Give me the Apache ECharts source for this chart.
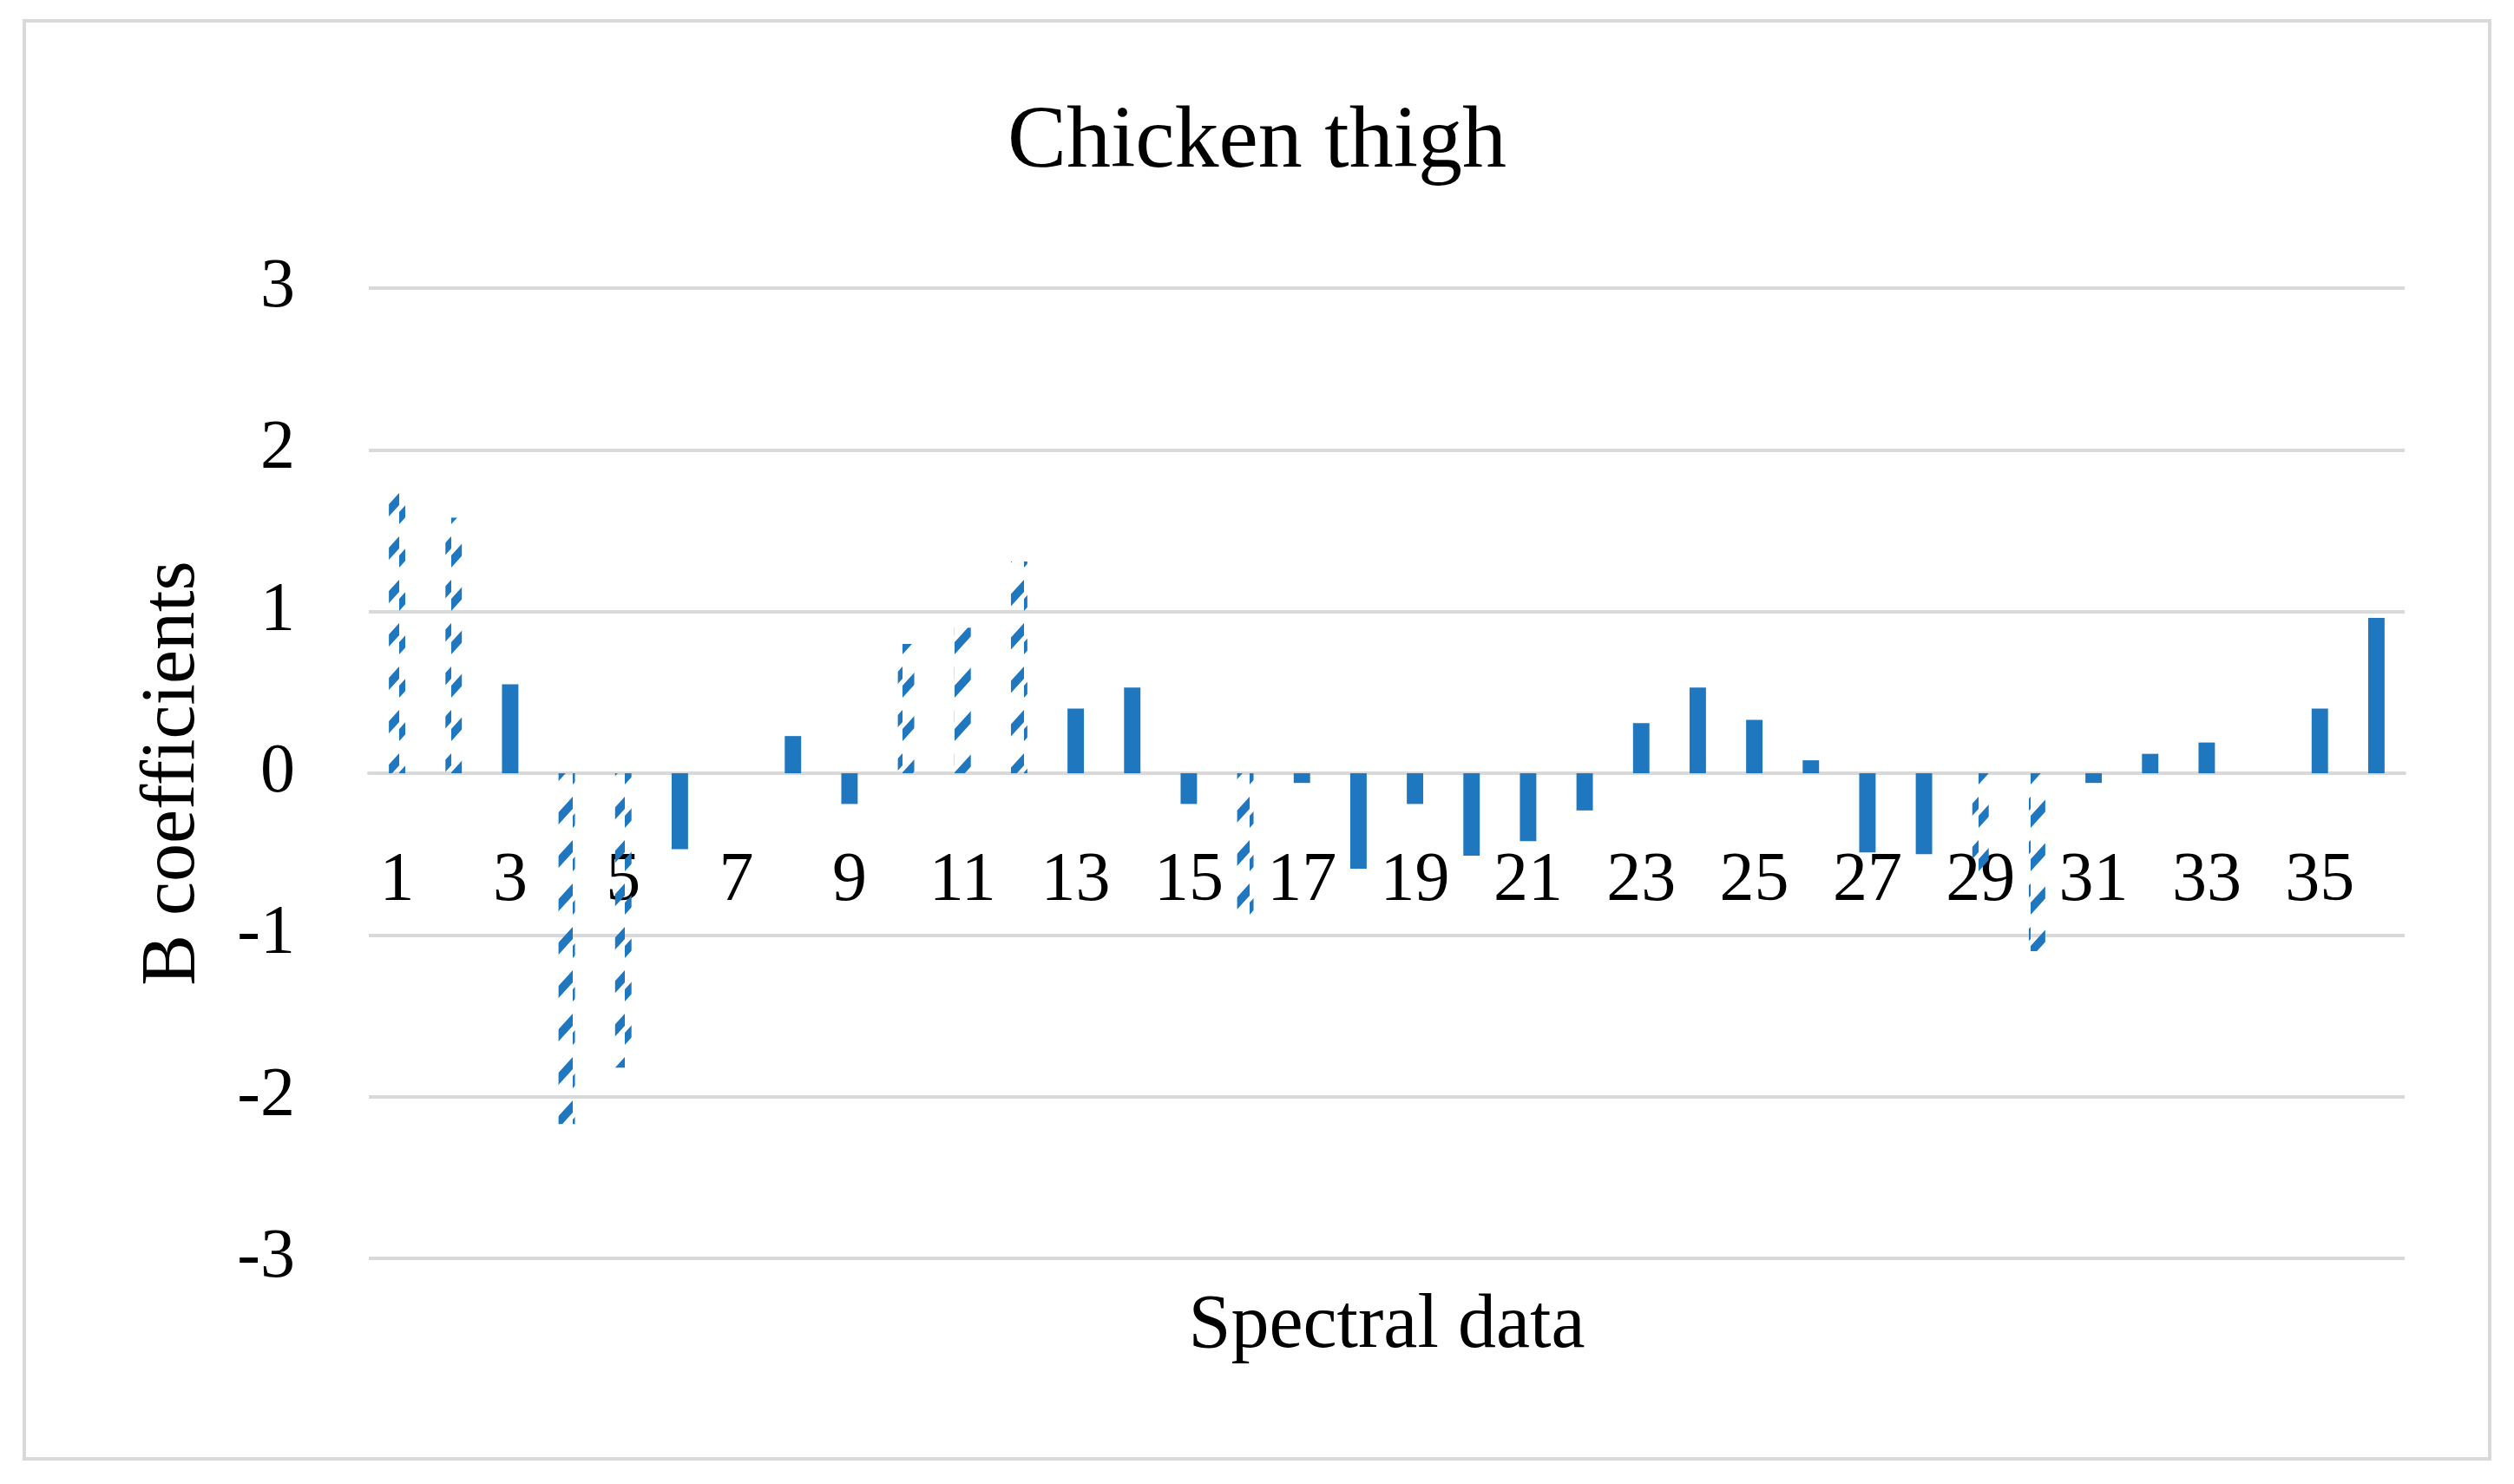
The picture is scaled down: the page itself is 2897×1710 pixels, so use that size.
<!DOCTYPE html>
<html><head><meta charset="utf-8">
<script src="https://cdn.jsdelivr.net/npm/echarts@6/dist/echarts.min.js"></script>
<style>html,body{margin:0;padding:0;background:#fff}#chart{width:2897px;height:1710px}</style>
</head><body><div id="chart"></div>
<script>
// ---- data ----
const categories = ['1','2','3','4','5','6','7','8','9','10','11','12','13','14','15','16','17','18',
  '19','20','21','22','23','24','25','26','27','28','29','30','31','32','33','34','35','36'];
const coefficients = [1.75, 1.58, 0.55, -2.17, -1.82, -0.47, 0, 0.23, -0.19, 0.80, 0.90, 1.31,
  0.40, 0.53, -0.19, -0.88, -0.06, -0.59, -0.19, -0.51, -0.42, -0.23, 0.31, 0.53,
  0.33, 0.08, -0.49, -0.50, -0.68, -1.10, -0.06, 0.12, 0.19, 0, 0.40, 0.96];
const hatched = [1,1,0,1,1,0,0,0,0,1,1,1,0,0,0,1,0,0,0,0,0,0,0,0,0,0,0,0,1,1,0,0,0,0,0,0];
const chartTitle = 'Chicken thigh';
const xName = 'Spectral data';
const yName = 'B coefficients';

// ---- styles ----
const BLUE = '#1f77bf';
const FONT = 'Liberation Serif';
const GRID_TOP = 332, GRID_BOTTOM = 260, H = 1710;
const yMin = -3, yMax = 3;
// distance from grid bottom up to the zero line (x axis sits on zero like Excel)
const zeroOffset = (H - GRID_TOP - GRID_BOTTOM) * (0 - yMin) / (yMax - yMin);

const tile = document.createElement('canvas');
tile.width = 20; tile.height = 50;
const g = tile.getContext('2d');
g.fillStyle = BLUE;
g.beginPath();
g.moveTo(0, 40); g.lineTo(20, 18); g.lineTo(20, 32); g.lineTo(0, 54);
g.closePath(); g.fill();
g.beginPath();
g.moveTo(0, -10); g.lineTo(20, -32); g.lineTo(20, -18); g.lineTo(0, 4);
g.closePath(); g.fill();
const hatchFill = { image: tile, repeat: 'repeat' };

const seriesData = coefficients.map((v, i) => ({
  value: v,
  itemStyle: { color: hatched[i] ? hatchFill : BLUE }
}));

const chart = echarts.init(document.getElementById('chart'), null, { renderer: 'canvas' });
chart.setOption({
  backgroundColor: '#ffffff',
  animation: false,
  title: {
    text: chartTitle, left: 'center', top: 109,
    textStyle: { fontFamily: FONT, fontSize: 102, fontWeight: 'normal', color: '#000' }
  },
  graphic: [{
    type: 'rect', z: -10,
    shape: { x: 28, y: 24, width: 2841, height: 1657 },
    style: { fill: 'none', stroke: '#d9d9d9', lineWidth: 4 }
  }],
  grid: { left: 425, right: 126, top: GRID_TOP, bottom: GRID_BOTTOM, containLabel: false, outerBoundsMode: 'none' },
  xAxis: {
    type: 'category', data: categories,
    offset: -zeroOffset,
    name: xName, nameLocation: 'middle', nameGap: 594,
    nameTextStyle: { fontFamily: FONT, fontSize: 88, color: '#000' },
    axisLine: { onZero: false, lineStyle: { color: '#d9d9d9', width: 4 } },
    axisTick: { show: false },
    axisLabel: { interval: 1, margin: 85, fontFamily: FONT, fontSize: 80, color: '#000' },
    splitLine: { show: false }
  },
  yAxis: {
    type: 'value', min: yMin, max: yMax, interval: 1,
    name: yName, nameLocation: 'middle', nameGap: 181, nameRotate: 90,
    nameTextStyle: { fontFamily: FONT, fontSize: 88, color: '#000' },
    axisLine: { show: false }, axisTick: { show: false },
    axisLabel: { margin: 85, fontFamily: FONT, fontSize: 80, color: '#000' },
    splitLine: { lineStyle: { color: '#d9d9d9', width: 4 } }
  },
  series: [{
    type: 'bar', data: seriesData, barWidth: '29%'
  }]
});
</script></body></html>
